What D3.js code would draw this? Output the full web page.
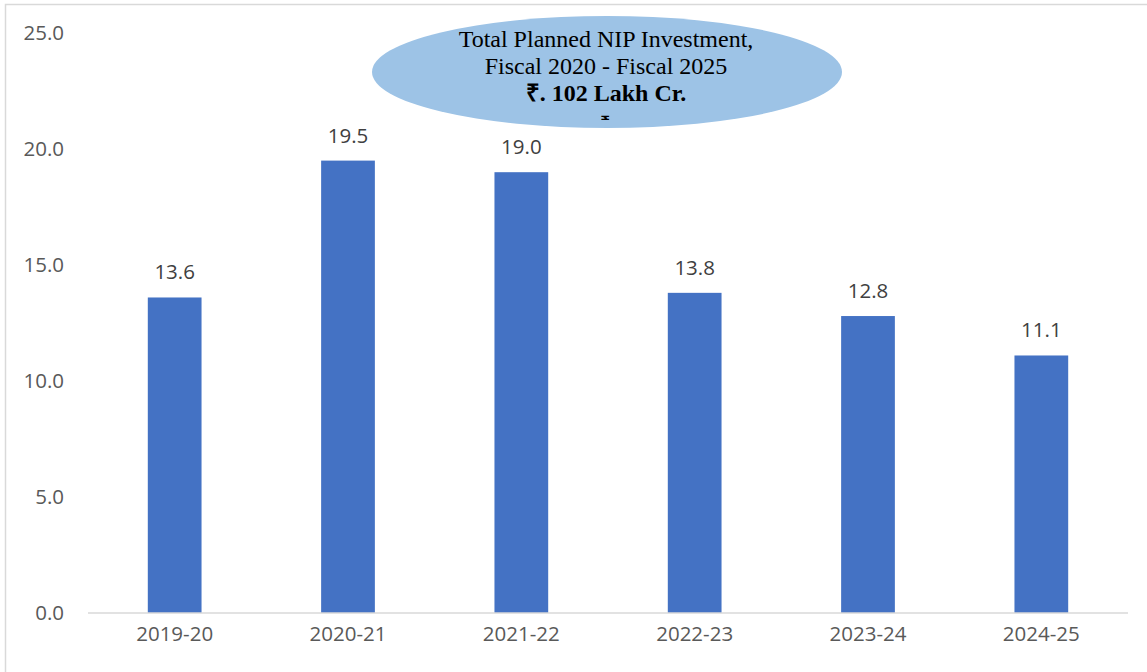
<!DOCTYPE html>
<html>
<head>
<meta charset="utf-8">
<script src="https://cdn.jsdelivr.net/npm/d3@7"></script>
<style>
  html, body { margin: 0; padding: 0; background: #fff; }
  svg { display: block; }
</style>
</head>
<body>
<svg id="chart" width="1147" height="672"></svg>
<script>
// Planned NIP investment per fiscal year (₹ lakh crore)
const years = ["2019-20", "2020-21", "2021-22", "2022-23", "2023-24", "2024-25"];
const investment = [13.6, 19.5, 19.0, 13.8, 12.8, 11.1];
const yTicks = [0, 5, 10, 15, 20, 25];
const calloutLines = ["Total Planned NIP Investment,", "Fiscal 2020 - Fiscal 2025", "₹. 102 Lakh Cr."];

const svg = d3.select("#chart");
const W = 1147, H = 672;
const plot = { left: 88, right: 1128, top: 33, bottom: 613 };
const labelFont = "'Open Sans', sans-serif";
const labelSize = 20.5;

// chart frame (left and top edges visible)
svg.append("path")
  .attr("d", `M5.5,${H} V4.5 H${W}`)
  .attr("fill", "none")
  .attr("stroke", "#d9d9d9")
  .attr("stroke-width", 1.5);

const x = d3.scaleBand().domain(years).range([plot.left, plot.right]).paddingInner(0.69).paddingOuter(0.345);
const y = d3.scaleLinear().domain([0, 25]).range([plot.bottom, plot.top]);

// y axis labels (no axis line)
const yAxis = svg.append("g")
  .attr("transform", `translate(64,0)`)
  .call(d3.axisLeft(y).tickValues(yTicks).tickFormat(d3.format(".1f")).tickSize(0).tickPadding(0));
yAxis.select(".domain").remove();
yAxis.selectAll("text")
  .attr("font-family", labelFont)
  .attr("font-size", labelSize)
  .attr("fill", "#595959");

// bars
svg.append("g").selectAll("rect")
  .data(investment)
  .join("rect")
  .attr("x", (d, i) => x(years[i]))
  .attr("width", x.bandwidth())
  .attr("y", d => y(d))
  .attr("height", d => y(0) - y(d))
  .attr("fill", "#4472C4");

// category axis
const xAxis = svg.append("g")
  .attr("transform", `translate(0,${plot.bottom})`)
  .call(d3.axisBottom(x).tickSize(0).tickPadding(13));
xAxis.select(".domain")
  .attr("stroke", "#d9d9d9")
  .attr("stroke-width", 1.5)
  .attr("d", `M${plot.left},0H${plot.right}`);
xAxis.selectAll("text")
  .attr("font-family", labelFont)
  .attr("font-size", labelSize)
  .attr("fill", "#595959");

// value labels
svg.append("g").selectAll("text")
  .data(investment)
  .join("text")
  .attr("x", (d, i) => x(years[i]) + x.bandwidth() / 2)
  .attr("y", d => y(d) - 18)
  .attr("text-anchor", "middle")
  .attr("font-family", labelFont)
  .attr("font-size", labelSize)
  .attr("fill", "#404040")
  .text(d => d3.format(".1f")(d));

// callout ellipse with total
const callout = svg.append("g");
callout.append("ellipse")
  .attr("cx", 607).attr("cy", 72)
  .attr("rx", 235).attr("ry", 56)
  .attr("fill", "#9DC3E6");
callout.selectAll("text.line")
  .data(calloutLines)
  .join("text")
  .attr("class", "line")
  .attr("x", 606)
  .attr("y", (d, i) => 47 + i * 27)
  .attr("text-anchor", "middle")
  .attr("font-family", "'Liberation Serif', 'Times New Roman', serif")
  .attr("font-size", 24)
  .attr("font-weight", (d, i) => i === 2 ? "bold" : "normal")
  .attr("fill", "#000")
  .text(d => d);

// stray rupee glyph, cut off at its lower half by the text box
svg.append("clipPath").attr("id", "glyph-clip")
  .append("rect").attr("x", 590).attr("y", 108).attr("width", 30).attr("height", 12);
callout.append("text")
  .attr("clip-path", "url(#glyph-clip)")
  .attr("x", 605).attr("y", 128)
  .attr("text-anchor", "middle")
  .attr("font-family", "'Liberation Serif', 'Noto Sans', serif")
  .attr("font-size", 17)
  .attr("font-weight", "bold")
  .attr("fill", "#000")
  .text("₹");
</script>
</body>
</html>
